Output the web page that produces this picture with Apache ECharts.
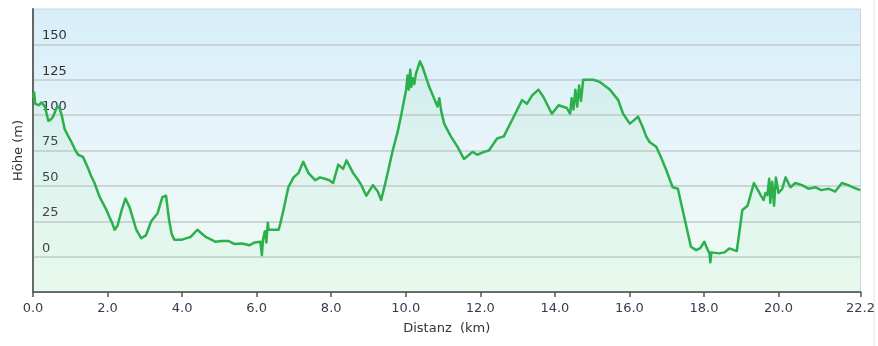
<!DOCTYPE html>
<html>
<head>
<meta charset="utf-8">
<script src="https://cdn.jsdelivr.net/npm/echarts@6/dist/echarts.min.js"></script>
<style>
html,body{margin:0;padding:0;background:#fff;}
#chart{width:878px;height:346px;}
</style>
</head>
<body>
<div id="chart"></div>
<script>
// Distance (km)
var distanceKm = [0.00,0.03,0.06,0.10,0.16,0.23,0.32,0.41,0.48,0.54,0.63,0.70,0.77,0.85,0.95,1.03,1.12,1.21,1.34,1.47,1.56,1.65,1.79,1.97,2.05,2.12,2.19,2.27,2.38,2.48,2.59,2.68,2.77,2.90,3.03,3.17,3.34,3.47,3.57,3.65,3.72,3.79,4.00,4.23,4.41,4.54,4.63,4.81,4.90,5.05,5.25,5.40,5.61,5.80,5.95,6.10,6.14,6.17,6.22,6.26,6.30,6.32,6.45,6.59,6.63,6.72,6.85,6.99,7.12,7.25,7.39,7.57,7.70,7.83,7.95,8.05,8.19,8.32,8.41,8.59,8.70,8.81,8.94,9.12,9.25,9.34,9.47,9.65,9.79,9.87,10.01,10.05,10.08,10.12,10.15,10.19,10.23,10.27,10.38,10.45,10.63,10.85,10.90,10.95,11.03,11.21,11.39,11.56,11.70,11.79,11.92,12.10,12.23,12.45,12.63,12.90,13.12,13.25,13.39,13.56,13.69,13.92,14.10,14.32,14.41,14.45,14.50,14.55,14.60,14.65,14.70,14.76,15.03,15.20,15.48,15.70,15.83,16.01,16.15,16.23,16.35,16.45,16.54,16.72,16.85,16.99,17.16,17.30,17.47,17.65,17.79,17.90,18.01,18.08,18.15,18.17,18.20,18.41,18.55,18.68,18.81,18.88,19.03,19.17,19.34,19.47,19.52,19.60,19.65,19.70,19.75,19.78,19.83,19.88,19.93,20.00,20.10,20.19,20.32,20.45,20.63,20.80,20.99,21.15,21.34,21.52,21.70,21.87,22.00,22.19];
// Elevation (m)
var elevationM = [112,116,108,109,107,109,106,96,97,99,105,106,100,90,85,81,76,72,70.5,63,57,52,42,33,28,24,19,22,33,41,35,27,19,13,15,25,30.5,42,43,26,16,12,12,14,19,16,14,11.7,10.5,11,11,9,9.3,8,10,10.5,1,12,18,10,24,19,19,19,23,33,49,56,59,67,59,54,56,55,54,52,65,62,68,59,55,50.5,43,50.5,46,40,54,75,89,99,118,128,118,132,120,126,122,129,138,134,120,106,112,103,94,85,77.6,69,72,74,72,74,75,83.5,85,99,110.6,108,114,118,113,101,107,105,101,112,104,118,106,121,110,125,125,123.5,118,110.6,101,94,97,99,92,85,81,77.6,70,61,49,48,28,7,4.6,6,10.5,6,2,-4,3,2.3,3,5.8,4.6,4,33,36,52,46,43.5,40,45,43.5,55,38,53,36,56,45,48,56,49,52,50.5,48,49,47,48,46,52,50.5,49,47];
var xTickValues = [0,2,4,6,8,10,12,14,16,18,20,22.2];
var yTickValues = [0,25,50,75,100,125,150];

var chart = echarts.init(document.getElementById('chart'));
var data = distanceKm.map(function(d,i){return [d, elevationM[i]];});
var labelFont = 'DejaVu Sans, Verdana, sans-serif';
chart.setOption({
  animation:false,
  backgroundColor:'#ffffff',
  grid:{
    left:33,right:12,top:9,bottom:54,show:true,
    borderColor:'#cfd5d9',borderWidth:1,
    backgroundColor:new echarts.graphic.LinearGradient(0,0,0,1,[
      {offset:0,color:'#d6eef9'},
      {offset:0.5,color:'#e8f5f9'},
      {offset:1,color:'#eefbf2'}
    ])
  },
  xAxis:{
    type:'value',min:0,max:22.2,
    name:'Distanz  (km)',nameLocation:'middle',nameGap:30,
    nameTextStyle:{fontFamily:labelFont,fontSize:13,color:'#333'},
    axisLine:{show:true,onZero:false,lineStyle:{color:'#666',width:2}},
    axisTick:{show:true,length:5,customValues:xTickValues,lineStyle:{color:'#555',width:1.5}},
    axisLabel:{customValues:xTickValues,margin:10,fontFamily:labelFont,fontSize:13,color:'#3c3a4c',
      formatter:function(v){return v.toFixed(1);}},
    splitLine:{show:false}
  },
  yAxis:{
    type:'value',min:-25,max:175,interval:25,
    name:'Höhe (m)',nameLocation:'middle',nameGap:5,nameRotate:90,
    nameTextStyle:{fontFamily:labelFont,fontSize:13,color:'#333'},
    axisLine:{show:true,lineStyle:{color:'#666',width:2}},
    axisTick:{show:false},
    axisLabel:{inside:true,margin:9,verticalAlign:'bottom',padding:[0,0,2,0],
      fontFamily:labelFont,fontSize:13,color:'#333',
      formatter:function(v){return yTickValues.indexOf(v)>=0 ? String(v) : '';}},
    splitLine:{show:true,showMinLine:false,showMaxLine:false,lineStyle:{color:'#c5cacd',width:1.5}}
  },
  series:[{
    type:'line',data:data,showSymbol:false,symbol:'none',
    lineStyle:{color:'#2bb04c',width:2.5,join:'round'},
    areaStyle:{color:new echarts.graphic.LinearGradient(0,0,0,1,[
      {offset:0,color:'rgba(120,210,150,0.18)'},
      {offset:1,color:'rgba(160,235,180,0.12)'}
    ]),origin:'start'}
  }],
  graphic:[{type:'line',shape:{x1:874,y1:0,x2:874,y2:346},style:{stroke:'#e4e4e4',lineWidth:1}}]
});
</script>
</body>
</html>
